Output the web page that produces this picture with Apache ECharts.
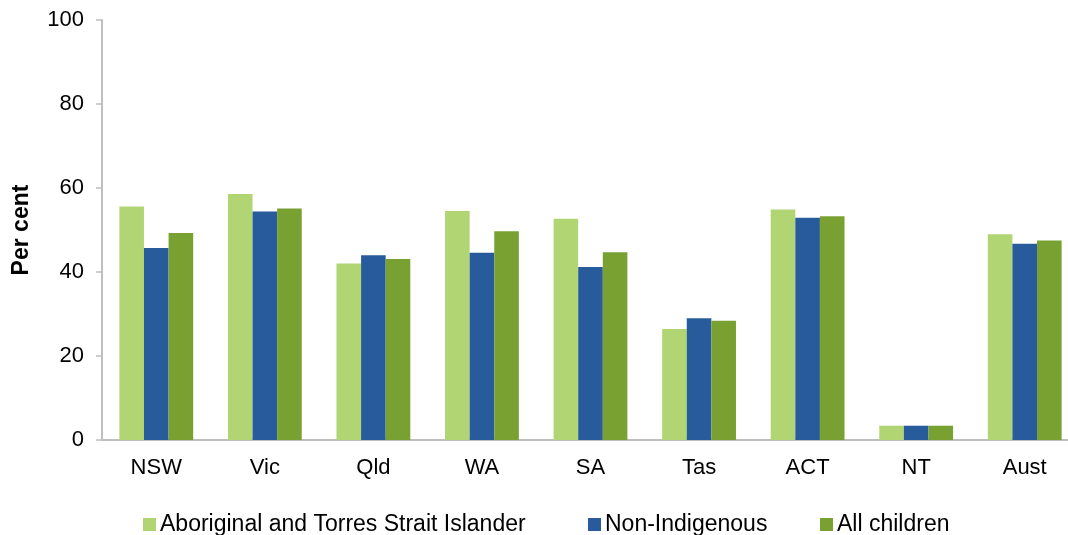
<!DOCTYPE html>
<html>
<head>
<meta charset="utf-8">
<script src="https://cdn.jsdelivr.net/npm/echarts@6/dist/echarts.min.js"></script>
<style>html,body{margin:0;padding:0;background:#fff;overflow:hidden;width:1068px;height:535px}#c{width:1090px;height:535px}</style>
</head>
<body>
<div id="c"></div>
<script>
const categories = ['NSW', 'Vic', 'Qld', 'WA', 'SA', 'Tas', 'ACT', 'NT', 'Aust'];
const aboriginal = [55.6, 58.6, 42.0, 54.5, 52.7, 26.4, 54.9, 3.4, 49.0];
const nonIndigenous = [45.7, 54.4, 44.0, 44.6, 41.2, 29.0, 52.9, 3.4, 46.7];
const allChildren = [49.3, 55.1, 43.1, 49.7, 44.7, 28.4, 53.3, 3.4, 47.5];
const seriesNames = ['Aboriginal and Torres Strait Islander', 'Non-Indigenous', 'All children'];
const yTicks = [0, 20, 40, 60, 80, 100];

const font = 'Liberation Sans, Arial, sans-serif';
const chart = echarts.init(document.getElementById('c'));
const colors = ['#b2d574', '#285b9b', '#78a132'];
const legendLefts = [138, 583, 815];
chart.setOption({
  animation: false,
  textStyle: { fontFamily: font },
  grid: { left: 102, top: 20, width: 977, height: 420, containLabel: false },
  legend: seriesNames.map((n, i) => ({
    left: legendLefts[i], top: 508,
    itemWidth: 13, itemHeight: 13, itemGap: 0,
    textStyle: { fontSize: 23, color: '#000', fontFamily: font, padding: [0, 0, 0, -1] },
    data: [{ name: n, icon: 'rect' }]
  })),
  xAxis: {
    type: 'category', data: categories,
    axisLine: { lineStyle: { color: '#bfbfbf', width: 2 } },
    axisTick: { show: false },
    axisLabel: { fontSize: 22, color: '#000', margin: 17, fontFamily: font }
  },
  yAxis: {
    type: 'value', min: yTicks[0], max: yTicks[yTicks.length - 1], interval: 20,
    name: 'Per cent', nameLocation: 'middle', nameGap: 69, nameRotate: 90,
    nameTextStyle: { fontSize: 23, fontWeight: 'bold', color: '#000', fontFamily: font },
    axisLine: { show: true, lineStyle: { color: '#bfbfbf', width: 2 } },
    axisTick: { show: true, length: 6, lineStyle: { color: '#bfbfbf', width: 1.5 } },
    splitLine: { show: false },
    axisLabel: { fontSize: 22, color: '#000', margin: 18, fontFamily: font }
  },
  series: [
    { name: seriesNames[0], type: 'bar', data: aboriginal, itemStyle: { color: colors[0] }, barGap: '0%', barCategoryGap: '32%' },
    { name: seriesNames[1], type: 'bar', data: nonIndigenous, itemStyle: { color: colors[1] }, barGap: '0%', barCategoryGap: '32%' },
    { name: seriesNames[2], type: 'bar', data: allChildren, itemStyle: { color: colors[2] }, barGap: '0%', barCategoryGap: '32%' }
  ]
});
</script>
</body>
</html>
